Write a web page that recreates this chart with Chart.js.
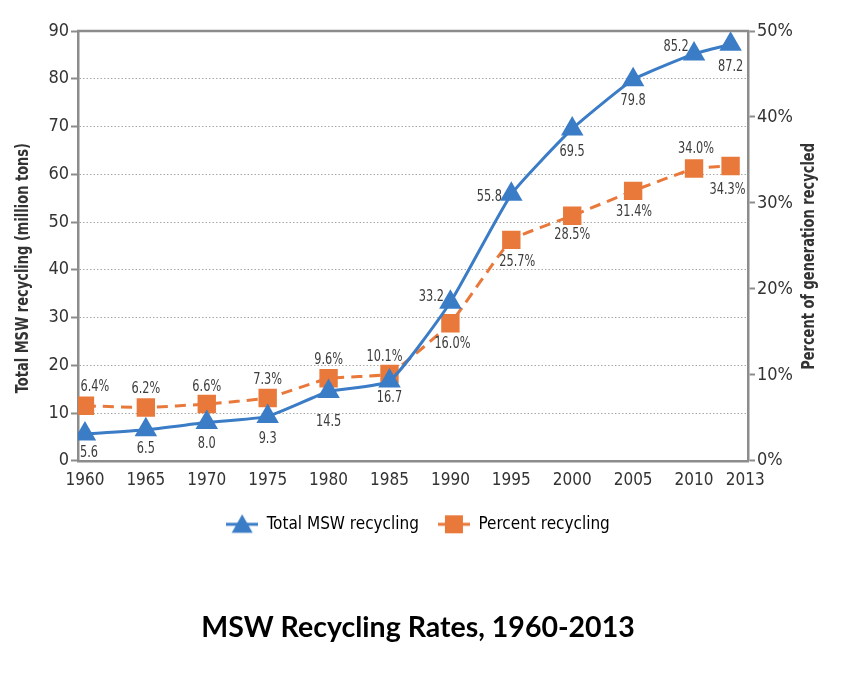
<!DOCTYPE html>
<html lang="en">
<head>
<meta charset="UTF-8">
<title>MSW Recycling Rates, 1960-2013</title>
<script src="https://cdn.jsdelivr.net/npm/chart.js@4.4.0/dist/chart.umd.min.js"></script>
<style>
  html, body { margin: 0; padding: 0; background: #fff; }
  #wrap { width: 852px; height: 674px; position: relative; }
</style>
</head>
<body>
<div id="wrap"><canvas id="recyclingChart"></canvas></div>
<script>
// data
const years = [1960, 1965, 1970, 1975, 1980, 1985, 1990, 1995, 2000, 2005, 2010, 2013];
const totalRecycling = [5.6, 6.5, 8.0, 9.3, 14.5, 16.7, 33.2, 55.8, 69.5, 79.8, 85.2, 87.2];
const percentRecycling = [6.4, 6.2, 6.6, 7.3, 9.6, 10.1, 16.0, 25.7, 28.5, 31.4, 34.0, 34.3];
const yearTicks = [1960, 1965, 1970, 1975, 1980, 1985, 1990, 1995, 2000, 2005, 2010, 2013];
const seriesNames = ['Total MSW recycling', 'Percent recycling'];
const leftTitle = 'Total MSW recycling (million tons)';
const rightTitle = 'Percent of generation recycled';
const chartTitle = 'MSW Recycling Rates, 1960-2013';

// label placement (dx, dy from the point)
const totalLabelOffsets = [[4, 19], [0, 19], [0, 22], [0, 23], [0, 31], [0, 17], [-19, -5], [-22, 3], [0, 23], [0, 21], [-18, -7], [0, 23]];
const percentLabelOffsets = [[10, -19], [0, -18], [0, -17], [0, -18], [0, -18], [-5, -17], [2, 21], [6, 22], [0, 19], [1, 21], [2, -19], [-3, 24]];

const BLUE = '#3b7cc6';
const ORANGE = '#e8793b';
const AXIS = '#8c8c8c';
const NARROW = "'Liberation Sans Narrow', 'DejaVu Sans Condensed', sans-serif";

function legendIcon(color, style) {
    const c = document.createElement('canvas');
    c.width = 32; c.height = 22;
    const g = c.getContext('2d');
    g.strokeStyle = color; g.lineWidth = 3;
    g.beginPath(); g.moveTo(0, 11); g.lineTo(32, 11); g.stroke();
    g.fillStyle = color;
    g.beginPath();
    if (style === 'triangle') {
        g.moveTo(16, 1); g.lineTo(26.5, 19.5); g.lineTo(5.5, 19.5); g.closePath();
    } else {
        g.rect(7, 2, 18, 18);
    }
    g.fill();
    return c;
}

// condensed text: squeeze along the reading direction
function squeezedText(ctx, text, x, y, sx) {
    ctx.save();
    ctx.translate(x, y);
    ctx.scale(sx, 1);
    ctx.fillText(text, 0, 0);
    ctx.restore();
}

const dataLabels = {
    id: 'dataLabels',
    afterDatasetsDraw(chart) {
        const ctx = chart.ctx;
        const sets = [[0, totalRecycling, totalLabelOffsets, v => v.toFixed(1)],
                      [1, percentRecycling, percentLabelOffsets, v => v.toFixed(1) + '%']];
        ctx.save();
        ctx.font = '15px ' + NARROW;
        ctx.fillStyle = '#3c3c3c';
        ctx.textAlign = 'center';
        ctx.textBaseline = 'middle';
        sets.forEach(([idx, vals, offs, fmt]) => {
            chart.getDatasetMeta(idx).data.forEach((pt, i) => {
                squeezedText(ctx, fmt(vals[i]), pt.x + offs[i][0], pt.y + offs[i][1], 0.84);
            });
        });
        ctx.restore();
    }
};

const frameAndTitles = {
    id: 'frameAndTitles',
    afterDraw(chart) {
        const ctx = chart.ctx;
        const a = chart.chartArea;
        ctx.save();
        ctx.strokeStyle = AXIS;
        ctx.lineWidth = 2.5;
        ctx.beginPath();
        ctx.moveTo(a.left - 1, a.top);
        ctx.lineTo(a.right + 1, a.top);
        ctx.stroke();

        ctx.font = 'bold 17px ' + NARROW;
        ctx.fillStyle = '#333';
        ctx.textAlign = 'right';
        ctx.textBaseline = 'middle';
        [[chart.scales.y.left + 24, leftTitle], [chart.scales.y1.left + 62, rightTitle]].forEach(([x, t]) => {
            ctx.save();
            ctx.translate(x, a.top + 112);
            ctx.rotate(-Math.PI / 2);
            ctx.scale(0.85, 1);
            ctx.fillText(t, 0, 0);
            ctx.restore();
        });
        ctx.restore();
    }
};

const ctx = document.getElementById('recyclingChart').getContext('2d');
new Chart(ctx, {
    type: 'line',
    data: {
        datasets: [{
            label: seriesNames[0],
            data: years.map((y, i) => ({ x: y, y: totalRecycling[i] })),
            yAxisID: 'y',
            borderColor: BLUE,
            backgroundColor: BLUE,
            borderWidth: 3,
            tension: 0.15,
            pointStyle: 'triangle',
            pointRadius: 13,
            pointBorderWidth: 0
        }, {
            label: seriesNames[1],
            data: years.map((y, i) => ({ x: y, y: percentRecycling[i] })),
            yAxisID: 'y1',
            borderColor: ORANGE,
            backgroundColor: ORANGE,
            borderWidth: 3,
            borderDash: [11, 7],
            tension: 0.1,
            pointStyle: 'rect',
            pointRadius: 13,
            pointBorderWidth: 0
        }]
    },
    options: {
        responsive: true,
        maintainAspectRatio: false,
        animation: false,
        layout: { padding: { top: 31, right: 16, left: 0, bottom: 0 } },
        plugins: {
            tooltip: { enabled: false },
            legend: {
                position: 'bottom',
                labels: {
                    usePointStyle: true,
                    pointStyleWidth: 32,
                    padding: 19,
                    color: '#333',
                    font: { family: NARROW, size: 17 },
                    generateLabels: () => [
                        { text: seriesNames[0], pointStyle: legendIcon(BLUE, 'triangle'), fillStyle: BLUE, strokeStyle: BLUE, lineWidth: 0, hidden: false, datasetIndex: 0 },
                        { text: seriesNames[1], pointStyle: legendIcon(ORANGE, 'rect'), fillStyle: ORANGE, strokeStyle: ORANGE, lineWidth: 0, hidden: false, datasetIndex: 1 }
                    ]
                }
            },
            title: {
                display: true,
                position: 'bottom',
                text: chartTitle,
                color: '#000',
                font: { family: 'Lato, sans-serif', size: 28.5, weight: 'bold' },
                padding: { top: 68, bottom: 29 }
            }
        },
        scales: {
            x: {
                type: 'linear',
                min: 1959.43,
                max: 2014.43,
                afterBuildTicks: s => { s.ticks = yearTicks.map(v => ({ value: v })); },
                afterFit: s => { s.height = 36; },
                grid: { display: false },
                border: { display: true, color: AXIS, width: 2.5 },
                ticks: {
                    color: '#333',
                    font: { family: NARROW, size: 17 },
                    padding: 2,
                    maxRotation: 0,
                    autoSkip: false,
                    // last label sits a little right of its point, as in the source figure
                    callback: v => v === 2013 ? '\u2007\u2007\u2007' + v : String(v)
                }
            },
            y: {
                position: 'left',
                min: 0,
                max: 90,
                afterFit: s => { s.width = 78; },
                ticks: {
                    stepSize: 10,
                    color: '#333',
                    font: { family: NARROW, size: 18 },
                    padding: 2
                },
                grid: {
                    color: c => (c.tick.value === 0 || c.tick.value === 90) ? 'rgba(0,0,0,0)' : '#a8a8a8',
                    lineWidth: 1,
                    tickLength: 7,
                    tickColor: AXIS,
                    tickWidth: 2
                },
                border: { display: true, color: AXIS, width: 2.5, dash: [1.5, 2] }
            },
            y1: {
                position: 'right',
                min: 0,
                max: 50,
                afterFit: s => { s.width = 88; },
                ticks: {
                    stepSize: 10,
                    color: '#333',
                    font: { family: NARROW, size: 18 },
                    padding: 2,
                    callback: v => v + '%'
                },
                grid: {
                    drawOnChartArea: false,
                    tickLength: 7,
                    tickColor: AXIS,
                    tickWidth: 2
                },
                border: { display: true, color: AXIS, width: 2.5 }
            }
        }
    },
    plugins: [dataLabels, frameAndTitles]
});
</script>
</body>
</html>
